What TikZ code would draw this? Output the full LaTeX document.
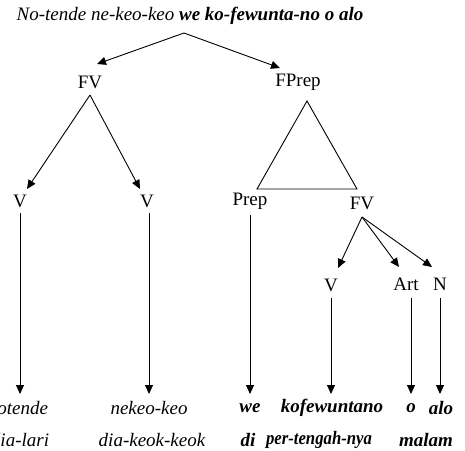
\documentclass[tikz,border=0pt]{standalone}
\usepackage{fontspec}
\setmainfont{Liberation Serif}
\usetikzlibrary{arrows.meta}
\begin{document}
\begin{tikzpicture}[x=1pt,y=-1pt,
  lbl/.style={font=\fontsize{19}{22}\selectfont, inner sep=1pt},
  wrd/.style={font=\fontsize{19}{22}\selectfont\itshape, inner sep=1pt},
  bwrd/.style={font=\fontsize{19}{22}\selectfont\itshape\bfseries, inner sep=1pt},
  arr/.style={line width=0.9pt, -{Triangle[length=9pt,width=8pt]}},
  ln/.style={line width=0.9pt}]
\useasboundingbox (0,0) rectangle (465,450);
\node[wrd] (title) at (190,16) {No-tende ne-keo-keo \textbf{we ko-fewunta-no o alo}};
\coordinate (top) at (184,33);
\node[lbl] (fv) at (90,82) {FV};
\node[lbl] (fprep) at (298,82) {FPrep};
\coordinate (fvtip) at (97,64);
\coordinate (fpreptip) at (280,68);
\draw[arr] (top) -- (fvtip);
\draw[arr] (top) -- (fpreptip);
% FV children
\node[lbl] (v1) at (20,201) {V};
\node[lbl] (v2) at (147,201) {V};
\coordinate (fvs) at (90,95);
\coordinate (v1tip) at (27,189);
\coordinate (v2tip) at (140,189);
\draw[arr] (fvs) -- (v1tip);
\draw[arr] (fvs) -- (v2tip);
% triangle
\coordinate (apex) at (307,101);
\coordinate (bl) at (257,189);
\coordinate (br) at (357,189);
\draw[ln] (apex) -- (bl) -- (br) -- cycle;
\node[lbl] (prep) at (250,201) {Prep};
\node[lbl] (fv2) at (362,203) {FV};
\coordinate (fv2s) at (362,217);
\node[lbl] (v3) at (331,285) {V};
\node[lbl] (art) at (406,284) {Art};
\node[lbl] (n) at (440,284) {N};
\coordinate (v3tip) at (338,268);
\coordinate (arttip) at (399,267);
\coordinate (ntip) at (432,267);
\draw[arr] (fv2s) -- (v3tip);
\draw[arr] (fv2s) -- (arttip);
\draw[arr] (fv2s) -- (ntip);
% words
\node[wrd] (w1) at (18,408) {notende};
\node[wrd] (w2) at (149,408) {nekeo-keo};
\node[bwrd] (w3) at (250,408) {we};
\node[bwrd] (w4) at (332,408) {kofewuntano};
\node[bwrd] (w5) at (411,408) {o};
\node[bwrd] (w6) at (441,408) {alo};
\node[wrd] (g1) at (20,440) {dia-lari};
\node[wrd] (g2) at (152,440) {dia-keok-keok};
\node[bwrd] (g3) at (248,440) {di};
\node[bwrd] (g4) at (319,440) {\scalebox{0.88}[1]{per-tengah-nya}};
\node[bwrd] (g5) at (426,440) {malam};
% vertical arrows
\draw[arr] (20,213) -- (20,394);
\draw[arr] (149,213) -- (149,394);
\draw[arr] (250,215) -- (250,394);
\draw[arr] (331,298) -- (331,394);
\draw[arr] (411,298) -- (411,394);
\draw[arr] (440,298) -- (440,394);
\end{tikzpicture}
\end{document}
